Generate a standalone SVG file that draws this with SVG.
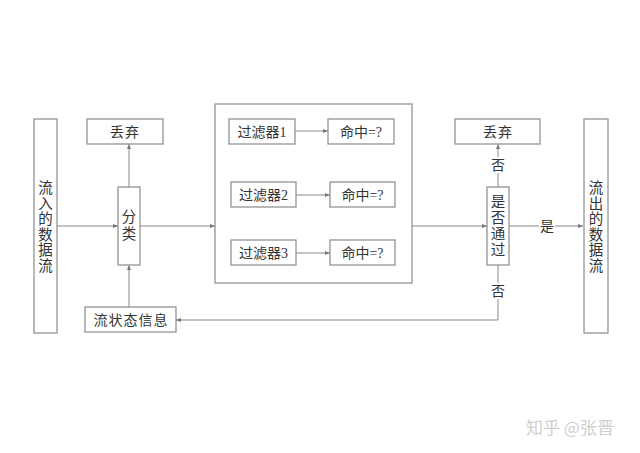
<svg xmlns="http://www.w3.org/2000/svg" width="640" height="453" viewBox="0 0 640 453">
<defs>
<marker id="ah" markerWidth="6" markerHeight="6" refX="5" refY="3" orient="auto" markerUnits="userSpaceOnUse">
<path d="M0,1 L5,3 L0,5 Z" fill="#777"/>
</marker>
<style>
.box{fill:#fff;stroke:#8a8a8a;stroke-width:1.2}
.t{font-family:"Liberation Serif","Noto Sans CJK SC",serif;font-size:14px;fill:#333;text-anchor:middle}
.v{font-family:"Liberation Serif","Noto Sans CJK SC",serif;font-size:14.5px;fill:#333;text-anchor:middle}
.ln{fill:none;stroke:#8a8a8a;stroke-width:1}
.wm{font-family:"Noto Sans CJK SC",sans-serif;font-size:17px;fill:#cfcfcf}
</style>
</defs>
<rect width="640" height="453" fill="#fff"/>
<g id="filters">
<rect class="box" x="215" y="104" width="197" height="179"/>
</g>
<g id="connectors">
<line class="ln" x1="57" y1="226" x2="118" y2="226" marker-end="url(#ah)"/>
<line class="ln" x1="140" y1="226" x2="215" y2="226" marker-end="url(#ah)"/>
<line class="ln" x1="129" y1="187" x2="129" y2="144" marker-end="url(#ah)"/>
<line class="ln" x1="129" y1="307" x2="129" y2="265" marker-end="url(#ah)"/>
<line class="ln" x1="295" y1="131" x2="328" y2="131" marker-end="url(#ah)"/>
<line class="ln" x1="296" y1="195" x2="330" y2="195" marker-end="url(#ah)"/>
<line class="ln" x1="296" y1="253" x2="330" y2="253" marker-end="url(#ah)"/>
<line class="ln" x1="412" y1="226" x2="487" y2="226" marker-end="url(#ah)"/>
<line class="ln" x1="498" y1="187" x2="498" y2="144" marker-end="url(#ah)"/>
<line class="ln" x1="509" y1="226" x2="583" y2="226" marker-end="url(#ah)"/>
<polyline class="ln" points="498,265 498,320 176,320" marker-end="url(#ah)"/>
<rect x="490" y="157" width="16" height="16" fill="#fff"/>
<text class="t" x="498" y="170">否</text>
<rect x="490" y="283" width="16" height="16" fill="#fff"/>
<text class="t" x="498" y="296">否</text>
<rect x="539" y="218" width="16" height="16" fill="#fff"/>
<text class="t" x="547" y="231">是</text>
</g>
<g id="input">
<rect class="box" x="34" y="119" width="23" height="214"/>
<text class="v" x="45.5" y="193">流</text>
<text class="v" x="45.5" y="208.6">入</text>
<text class="v" x="45.5" y="224.2">的</text>
<text class="v" x="45.5" y="239.8">数</text>
<text class="v" x="45.5" y="255.4">据</text>
<text class="v" x="45.5" y="271">流</text>
</g>
<g id="discard1">
<rect class="box" x="87" y="119" width="76" height="25"/>
<text class="t" x="125" y="136.5" letter-spacing="1">丢弃</text>
</g>
<g id="classify">
<rect class="box" x="118" y="187" width="22" height="78"/>
<text class="v" x="129" y="222">分</text>
<text class="v" x="129" y="239">类</text>
</g>
<g id="state">
<rect class="box" x="85" y="307" width="91" height="25"/>
<text class="t" x="131" y="324.5" letter-spacing="1">流状态信息</text>
</g>
<g id="f1"><rect class="box" x="229" y="119" width="66" height="25"/><text class="t" x="262" y="136.5">过滤器1</text></g>
<g id="h1"><rect class="box" x="328" y="119" width="66" height="25"/><text class="t" x="361" y="136.5">命中=?</text></g>
<g id="f2"><rect class="box" x="231" y="182" width="65" height="25"/><text class="t" x="263.5" y="199.5">过滤器2</text></g>
<g id="h2"><rect class="box" x="330" y="182" width="65" height="25"/><text class="t" x="362.5" y="199.5">命中=?</text></g>
<g id="f3"><rect class="box" x="231" y="240" width="65" height="25"/><text class="t" x="263.5" y="257.5">过滤器3</text></g>
<g id="h3"><rect class="box" x="330" y="240" width="65" height="25"/><text class="t" x="362.5" y="257.5">命中=?</text></g>
<g id="discard2">
<rect class="box" x="455" y="119" width="85" height="25"/>
<text class="t" x="498" y="136.5" letter-spacing="1">丢弃</text>
</g>
<g id="pass">
<rect class="box" x="487" y="187" width="22" height="78"/>
<text class="v" x="498" y="207">是</text>
<text class="v" x="498" y="223">否</text>
<text class="v" x="498" y="239">通</text>
<text class="v" x="498" y="255">过</text>
</g>
<g id="output">
<rect class="box" x="584" y="119" width="24" height="214"/>
<text class="v" x="596" y="193">流</text>
<text class="v" x="596" y="208.6">出</text>
<text class="v" x="596" y="224.2">的</text>
<text class="v" x="596" y="239.8">数</text>
<text class="v" x="596" y="255.4">据</text>
<text class="v" x="596" y="271">流</text>
</g>
<text class="wm" x="526" y="434">知乎 @张晋</text>
</svg>
